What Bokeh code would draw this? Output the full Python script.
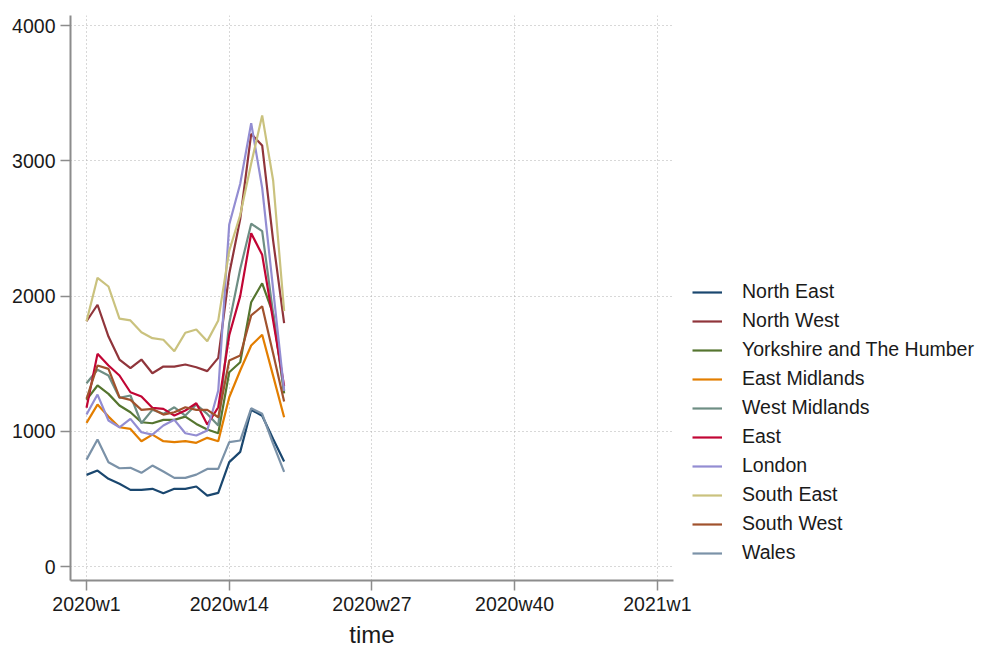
from bokeh.plotting import figure
from bokeh.models import FixedTicker, Legend, LegendItem, Range1d
from bokeh.embed import file_html
from bokeh.resources import INLINE

weeks = list(range(1, 20))
regions = ["North East", "North West", "Yorkshire and The Humber", "East Midlands",
           "West Midlands", "East", "London", "South East", "South West", "Wales"]
north_east = [678, 710, 649, 612, 567, 567, 575, 542, 575, 575, 592, 525, 545, 772, 848, 1160, 1115, 944, 777]
north_west = [1814, 1936, 1701, 1531, 1467, 1531, 1430, 1479, 1479, 1494, 1474, 1445, 1543, 2165, 2570, 3200, 3114, 2411, 1800]
yorkshire = [1233, 1339, 1277, 1191, 1141, 1067, 1060, 1085, 1085, 1109, 1055, 1013, 986, 1437, 1511, 1955, 2095, 1869, 1280]
east_midlands = [1063, 1198, 1109, 1030, 1018, 927, 976, 927, 920, 927, 915, 952, 927, 1252, 1450, 1635, 1714, 1410, 1104]
west_midlands = [1356, 1455, 1413, 1248, 1265, 1060, 1159, 1129, 1178, 1117, 1198, 1129, 1043, 1800, 2200, 2535, 2480, 1871, 1300]
east = [1174, 1573, 1487, 1413, 1289, 1257, 1174, 1166, 1117, 1154, 1208, 1050, 1178, 1710, 2000, 2465, 2305, 1820, 1335]
london = [1124, 1272, 1080, 1030, 1092, 993, 976, 1043, 1085, 986, 969, 1006, 1302, 2530, 2831, 3279, 2800, 2050, 1300]
south_east = [1814, 2135, 2071, 1834, 1820, 1733, 1689, 1677, 1593, 1729, 1753, 1667, 1820, 2335, 2600, 2980, 3336, 2855, 1890]
south_west = [1240, 1487, 1462, 1252, 1233, 1159, 1166, 1124, 1141, 1178, 1159, 1159, 1104, 1524, 1561, 1857, 1925, 1575, 1220]
wales = [791, 939, 772, 727, 730, 693, 747, 703, 656, 656, 680, 722, 722, 920, 932, 1170, 1130, 907, 700]
series = [north_east, north_west, yorkshire, east_midlands, west_midlands,
          east, london, south_east, south_west, wales]
colors = ["#1a476f", "#90353b", "#55752f", "#e37e00", "#6e8e84",
          "#c10534", "#938dd2", "#cac27e", "#a0522d", "#7b92a8"]
x_ticks = [1, 14, 27, 40, 53]
x_tick_labels = ["2020w1", "2020w14", "2020w27", "2020w40", "2021w1"]
y_ticks = [0, 1000, 2000, 3000, 4000]

FONT = "Liberation Sans"

p = figure(frame_width=603, frame_height=565, output_backend="svg", toolbar_location=None,
           x_range=Range1d(-0.46, 54.47), y_range=Range1d(-103, 4075),
           min_border_left=70, min_border_right=0, min_border_top=15, min_border_bottom=0)
p.outline_line_color = None
p.background_fill_color = "white"
p.border_fill_color = "white"

items = []
for name, vals, c in zip(regions, series, colors):
    r = p.line(weeks, vals, line_color=c, line_width=2.2)
    items.append(LegendItem(label=name, renderers=[r]))

for ax in (p.xaxis[0], p.yaxis[0]):
    ax.axis_line_color = "#8c8c8c"
    ax.axis_line_width = 2
    ax.major_tick_line_color = "#8c8c8c"
    ax.major_tick_line_width = 1.5
    ax.major_tick_out = 10
    ax.major_tick_in = 0
    ax.minor_tick_line_color = None
    ax.major_label_text_font = FONT
    ax.major_label_text_font_size = "19.5px"
    ax.major_label_text_color = "#1a1a1a"
    ax.major_label_standoff = 5

p.xaxis.major_label_standoff = 2
p.xaxis.ticker = FixedTicker(ticks=x_ticks)
p.xaxis.major_label_overrides = {t: l for t, l in zip(x_ticks, x_tick_labels)}
p.yaxis.ticker = FixedTicker(ticks=y_ticks)
p.xaxis.axis_label = "time"
p.xaxis.axis_label_text_font = FONT
p.xaxis.axis_label_text_font_size = "24px"
p.xaxis.axis_label_text_font_style = "normal"
p.xaxis.axis_label_text_color = "#1a1a1a"
p.xaxis.axis_label_standoff = 3

for g in (p.xgrid[0], p.ygrid[0]):
    g.grid_line_color = "#b0b0b0"
    g.grid_line_dash = "1 3"
    g.grid_line_width = 1

legend = Legend(items=items, location=(19, 16), orientation="vertical",
                label_text_font=FONT, label_text_font_size="19.5px", label_text_color="#1a1a1a",
                glyph_width=30, glyph_height=22, label_height=22, label_standoff=20,
                spacing=6, padding=0, margin=13, border_line_color=None,
                background_fill_alpha=0)
p.add_layout(legend, "right")

open("out.html", "w").write(file_html(p, INLINE))
